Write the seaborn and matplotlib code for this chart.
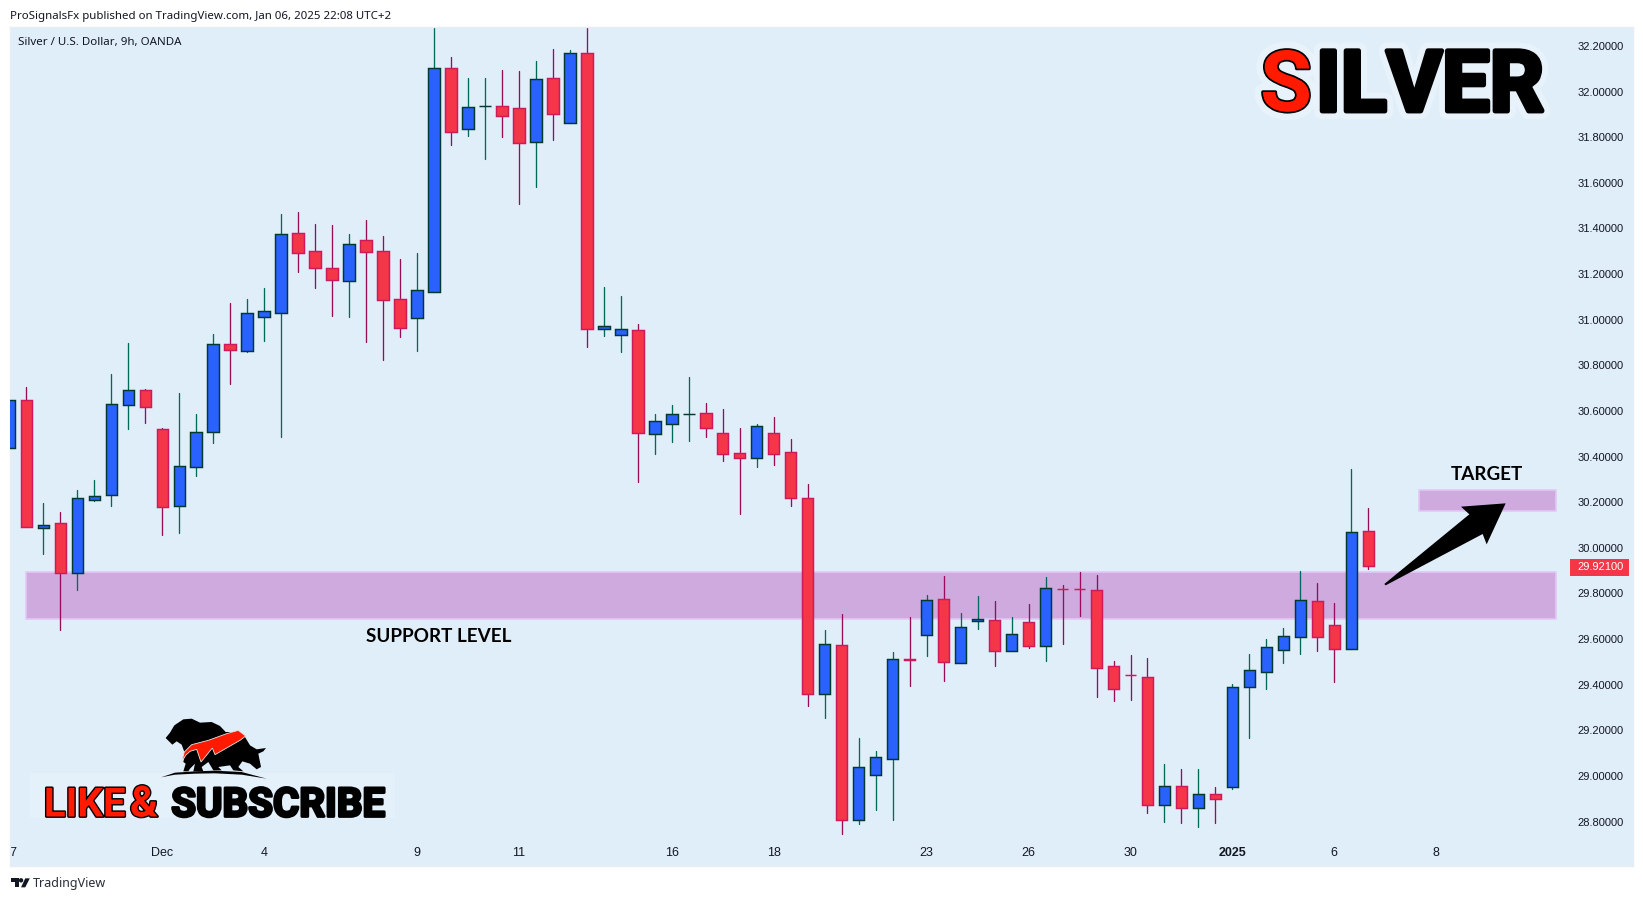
import numpy as np
import pandas as pd
import matplotlib
matplotlib.use("Agg")
import matplotlib.pyplot as plt
import matplotlib.patheffects as pe
from matplotlib.patches import Polygon, Rectangle, Circle
from matplotlib.ticker import FormatStrFormatter
from matplotlib.transforms import IdentityTransform, blended_transform_factory
import seaborn as sns

# 9h silver candles, first one is cut off by the left edge
opens = [30.439, 30.648, 30.088, 30.108, 29.891, 30.211, 30.233, 30.628, 30.691, 30.520,
         30.185, 30.356, 30.509, 30.892, 30.864, 31.013, 31.031, 31.379, 31.300, 31.226,
         31.171, 31.348, 31.300, 31.091, 31.006, 31.123, 32.102, 31.838, 31.936, 31.936,
         31.927, 31.780, 32.058, 31.864, 32.168, 30.961, 30.934, 30.954, 30.500, 30.544,
         30.585, 30.590, 30.502, 30.414, 30.395, 30.502, 30.419, 30.217, 29.361, 29.573,
         28.808, 29.005, 29.076, 29.512, 29.619, 29.774, 29.496, 29.681, 29.682, 29.549,
         29.674, 29.571, 29.819, 29.819, 29.814, 29.481, 29.442, 29.432, 28.874, 28.955,
         28.861, 28.920, 28.953, 29.391, 29.457, 29.551, 29.610, 29.766, 29.660, 29.558,
         30.072]
closes = [30.648, 30.093, 30.099, 29.891, 30.217, 30.226, 30.629, 30.691, 30.619, 30.180,
          30.357, 30.507, 30.892, 30.869, 31.028, 31.037, 31.375, 31.294, 31.228, 31.176,
          31.331, 31.298, 31.087, 30.965, 31.129, 32.102, 31.824, 31.931, 31.936, 31.895,
          31.776, 32.054, 31.903, 32.168, 30.961, 30.971, 30.958, 30.505, 30.555, 30.585,
          30.585, 30.527, 30.413, 30.395, 30.533, 30.413, 30.220, 29.361, 29.577, 28.808,
          29.038, 29.082, 29.511, 29.510, 29.770, 29.501, 29.652, 29.688, 29.549, 29.621,
          29.571, 29.823, 29.818, 29.818, 29.475, 29.382, 29.441, 28.874, 28.955, 28.861,
          28.920, 28.900, 29.389, 29.463, 29.564, 29.612, 29.770, 29.610, 29.558, 30.068,
          29.921]
highs = [30.648, 30.704, 30.197, 30.157, 30.254, 30.297, 30.762, 30.898, 30.696, 30.525,
         30.679, 30.587, 30.937, 31.073, 31.091, 31.139, 31.464, 31.472, 31.420, 31.415,
         31.376, 31.437, 31.367, 31.266, 31.293, 32.292, 32.152, 32.060, 32.060, 32.095,
         32.090, 32.134, 32.187, 32.183, 32.292, 31.143, 31.104, 30.981, 30.587, 30.626,
         30.749, 30.635, 30.609, 30.525, 30.543, 30.574, 30.477, 30.280, 29.640, 29.710,
         29.166, 29.109, 29.543, 29.697, 29.793, 29.877, 29.714, 29.789, 29.767, 29.697,
         29.754, 29.872, 29.837, 29.894, 29.881, 29.504, 29.530, 29.517, 29.052, 29.030,
         29.030, 28.952, 29.403, 29.535, 29.600, 29.649, 29.898, 29.846, 29.758, 30.346,
         30.175]
lows = [30.439, 30.093, 29.973, 29.640, 29.815, 30.205, 30.183, 30.521, 30.547, 30.056,
        30.065, 30.315, 30.460, 30.718, 30.859, 30.907, 30.486, 31.209, 31.139, 31.016,
        31.012, 30.902, 30.823, 30.924, 30.863, 31.123, 31.766, 31.806, 31.705, 31.801,
        31.507, 31.582, 31.788, 31.864, 30.880, 30.929, 30.859, 30.289, 30.411, 30.464,
        30.468, 30.486, 30.381, 30.148, 30.354, 30.363, 30.183, 29.307, 29.254, 28.745,
        28.789, 28.851, 28.807, 29.394, 29.526, 29.416, 29.496, 29.644, 29.482, 29.549,
        29.561, 29.504, 29.578, 29.701, 29.346, 29.329, 29.333, 28.838, 28.798, 28.794,
        28.776, 28.794, 28.943, 29.166, 29.381, 29.495, 29.535, 29.548, 29.412, 29.558,
        29.907]
candle_idx = np.arange(-1, 80)

price_ticks = [28.8, 29.0, 29.2, 29.4, 29.6, 29.8, 30.0, 30.2, 30.4, 30.6, 30.8,
               31.0, 31.2, 31.4, 31.6, 31.8, 32.0, 32.2]
date_ticks = [-0.82, 8, 14, 23, 29, 38, 44, 53, 59, 65, 71, 77, 83]
date_labels = ["7", "Dec", "4", "9", "11", "16", "18", "23", "26", "30", "2025", "6", "8"]

support_zone = (29.689, 29.893)
target_zone = (30.163, 30.252)

BG = "#E0EEF9"
UP_FILL, UP_EDGE, UP_WICK = "#2962FF", "#00392F", "#006A58"
DOWN_FILL, DOWN_EDGE, DOWN_WICK = "#F43648", "#CC1A5C", "#960D5A"
ZONE_FILL, ZONE_EDGE = "#CEAADF", "#E3C8F5"
TEXT = "#131722"
RED_LOGO = "#FF1A00"

W, H = 1643, 901

sns.set_theme(style="white", rc={"axes.facecolor": BG, "figure.facecolor": "white"})
plt.rcParams["font.family"] = ["Liberation Sans", "DejaVu Sans"]

df = pd.DataFrame({"idx": candle_idx, "open": opens, "close": closes, "high": highs, "low": lows})
df["up"] = df["close"] >= df["open"]
wicks = df.melt(id_vars=["idx", "up"], value_vars=["low", "high"], value_name="price")

fig = plt.figure(figsize=(W / 100, H / 100), dpi=100)
ax = fig.add_axes([10 / W, 1 - 866 / H, 1623 / W, 839 / H])
pix = IdentityTransform()


def xy(x, y):
    # reference pixels to display coords (y runs down in the reference)
    return x, H - y


def shape(points, color, zorder=6, **kw):
    fig.add_artist(Polygon([xy(*p) for p in points], closed=True, facecolor=color,
                           edgecolor=kw.pop("edgecolor", "none"), transform=pix, zorder=zorder, **kw))


def label(x, y, s, **kw):
    return fig.text(*xy(x, y), s, transform=pix, zorder=7, **kw)


# zones sit under the candles
for lo, hi in (support_zone, target_zone):
    left, right = (0, 90.03) if lo == support_zone[0] else (82.0, 90.03)
    ax.fill_between([left, right], lo, hi, facecolor=ZONE_FILL, edgecolor=ZONE_EDGE, linewidth=1.2, zorder=1)

sns.lineplot(data=wicks, x="idx", y="price", units="idx", hue="up", estimator=None, sort=False,
             palette={True: UP_WICK, False: DOWN_WICK}, legend=False, linewidth=0.95, ax=ax, zorder=2)

for is_up, fill, edge in ((True, UP_FILL, UP_EDGE), (False, DOWN_FILL, DOWN_EDGE)):
    part = df[df["up"] == is_up]
    ax.bar(part["idx"], part["close"] - part["open"], bottom=part["open"], width=0.67,
           facecolor=fill, edgecolor=edge, linewidth=1.05, zorder=3)

ax.set_xlim(-0.96, 94.58)
ax.set_ylim(28.605, 32.283)
ax.set_xlabel("")
ax.set_ylabel("")

ax.yaxis.tick_right()
ax.set_yticks(price_ticks)
ax.yaxis.set_major_formatter(FormatStrFormatter("%.5f"))
ax.tick_params(axis="y", length=0, pad=-40, labelsize=8, labelcolor=TEXT)
ax.set_xticks(date_ticks)
ax.set_xticklabels(date_labels)
ax.tick_params(axis="x", length=0, pad=-13.5, labelsize=9, labelcolor=TEXT)
ax.get_xticklabels()[date_labels.index("2025")].set_fontweight("bold")
for spine in ax.spines.values():
    spine.set_color("#E9EDF1")
    spine.set_linewidth(1.0)

# last price tag
fig.add_artist(Rectangle(xy(1570, 576), 59, 17, facecolor=DOWN_FILL, edgecolor="none", transform=pix, zorder=6))
fig.text(1577.7, closes[-1] - 0.004, f"{closes[-1]:.5f}", transform=blended_transform_factory(pix, ax.transData),
         color="white", fontsize=8, va="center", ha="left", zorder=8)

# header and footer text
label(10, 16.5, "ProSignalsFx published on TradingView.com, Jan 06, 2025 22:08 UTC+2",
      fontsize=8.25, color=TEXT, va="center", family="Noto Sans")
label(18, 43, "Silver / U.S. Dollar, 9h, OANDA", fontsize=8.3, color=TEXT, va="center", family="Noto Sans")
label(33, 884, "TradingView", fontsize=9.0, color="#2A2E39", va="center", family="Noto Sans")
label(366.5, 636, "SUPPORT LEVEL", fontsize=13.6, color="black", weight="bold", va="center", family="Lato")
label(1451, 475, "TARGET", fontsize=13.6, color="black", weight="bold", va="center", family="Lato")

# big SILVER headline
glow = [pe.withStroke(linewidth=12, foreground="#EAF4FC", alpha=0.8),
        pe.withStroke(linewidth=2.5, foreground="black")]
heavy = [pe.withStroke(linewidth=12, foreground="#EAF4FC", alpha=0.8),
         pe.withStroke(linewidth=3.5, foreground="black")]
label(1260, 111, "S", fontsize=61, color=RED_LOGO, weight="bold", family="Roboto", va="baseline", path_effects=glow)
label(1316, 111, "ILVER", fontsize=61, color="black", weight="bold", family="Roboto", va="baseline",
      path_effects=heavy)

# like & subscribe stamp
fig.add_artist(Rectangle(xy(30, 818), 364.6, 45, facecolor="#E5F1FA", edgecolor="none", transform=pix, zorder=5))
stamp = [pe.withStroke(linewidth=2.0, foreground="black")]
label(43.8, 816.5, "LIKE", fontsize=29, color=RED_LOGO, weight="bold", family="Roboto", va="baseline", path_effects=stamp)
label(129.8, 816.5, "&", fontsize=31, color=RED_LOGO, weight="bold", family="Roboto", va="baseline", path_effects=stamp)
label(171.2, 816.5, "SUBSCRIBE", fontsize=29, color="black", weight="bold", family="Roboto", va="baseline", path_effects=stamp)


def logo(points):
    return [(155 + x / 3, 712 + y / 3) for x, y in points]


beast = [(32, 78), (45, 62), (58, 40), (85, 22), (110, 20), (135, 32), (170, 30), (195, 42), (212, 60), (235, 60),
         (270, 75), (285, 100), (305, 112), (333, 108), (325, 118), (310, 125), (318, 165), (305, 172), (285, 155),
         (262, 148), (250, 165), (265, 178), (235, 175), (225, 160), (190, 165), (200, 175), (175, 175), (160, 150),
         (140, 165), (145, 178), (115, 178), (120, 155), (105, 170), (100, 178), (85, 178), (92, 155), (85, 150),
         (90, 125), (80, 98), (65, 88), (52, 98), (42, 88)]
swoosh = [(80, 150), (88, 120), (110, 98), (160, 85), (215, 65), (250, 55), (272, 72), (255, 85), (180, 128),
          (172, 108), (138, 150), (125, 112), (105, 118), (92, 130)]
ground = [(18, 196), (60, 182), (120, 178), (180, 176), (260, 180), (335, 200), (260, 188), (180, 184), (120, 185),
          (60, 188)]
shape(logo(beast), "black")
shape(logo(swoosh), RED_LOGO, edgecolor="#E6E6E6", linewidth=0.6)
shape(logo(ground), "black")

# tradingview mark
tv_mark = [(30, 835), (55, 835), (55, 862), (42, 862), (42, 847), (30, 847)]
tv_slant = [(72, 835), (85, 835), (72, 862), (60, 862)]
shape([(x / 2.851, 600 + y / 3) for x, y in tv_mark], "#131722")
shape([(x / 2.851, 600 + y / 3) for x, y in tv_slant], "#131722")
fig.add_artist(Circle(xy(60 / 2.851, 600 + 841 / 3), 2.2, facecolor="#131722", edgecolor="none", transform=pix, zorder=6))

# arrow up to the target zone
arrow = [(973, 462), (1228, 253), (1203, 230), (1337, 220), (1280, 343), (1268, 312), (977, 466)]
shape([(1060 + x / 3, 430 + y / 3) for x, y in arrow], "black")

sns.despine(ax=ax, left=False, right=False, top=False, bottom=False)
fig.savefig("out.png", dpi=100)
